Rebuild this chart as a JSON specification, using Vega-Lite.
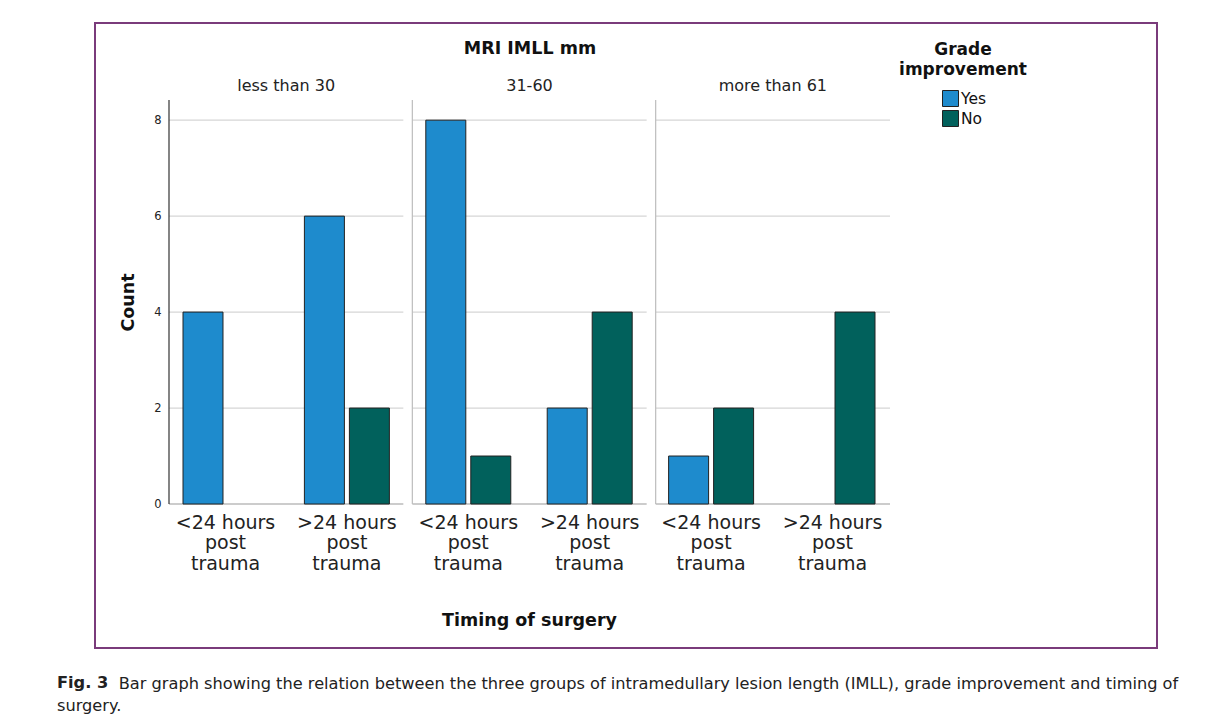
{
  "$schema": "https://vega.github.io/schema/vega-lite/v6.json",
  "width": 1062,
  "height": 625,
  "autosize": "none",
  "padding": {"left": 95, "top": 23, "right": 67, "bottom": 80},
  "background": "white",
  "config": {
    "font": "DejaVu Sans",
    "view": {"stroke": "#7a3b7b", "strokeWidth": 2},
    "axis": {"labelFont": "DejaVu Sans", "titleFont": "DejaVu Sans", "labelColor": "#222", "titleColor": "#111"}
  },
  "title": {
    "text": "Fig. 3",
    "subtitle": ["\u200b\u00a0\u00a0\u00a0\u00a0\u00a0\u00a0\u00a0\u00a0\u00a0\u00a0\u00a0\u00a0Bar graph showing the relation between the three groups of intramedullary lesion length (IMLL), grade improvement and timing of", "surgery."],
    "orient": "bottom",
    "anchor": "start",
    "frame": "group",
    "dx": -38,
    "offset": 27,
    "font": "DejaVu Sans",
    "fontSize": 16.2,
    "fontWeight": "bold",
    "lineHeight": 22,
    "color": "#222",
    "subtitleFont": "DejaVu Sans",
    "subtitleFontSize": 16.2,
    "subtitleColor": "#222",
    "subtitleLineHeight": 22,
    "subtitlePadding": -15
  },
  "datasets": {
    "bars": [
      {"panel": "less than 30", "timing": "<24 hours", "grade": "Yes", "count": 4},
      {"panel": "less than 30", "timing": ">24 hours", "grade": "Yes", "count": 6},
      {"panel": "less than 30", "timing": ">24 hours", "grade": "No", "count": 2},
      {"panel": "31-60", "timing": "<24 hours", "grade": "Yes", "count": 8},
      {"panel": "31-60", "timing": "<24 hours", "grade": "No", "count": 1},
      {"panel": "31-60", "timing": ">24 hours", "grade": "Yes", "count": 2},
      {"panel": "31-60", "timing": ">24 hours", "grade": "No", "count": 4},
      {"panel": "more than 61", "timing": "<24 hours", "grade": "Yes", "count": 1},
      {"panel": "more than 61", "timing": "<24 hours", "grade": "No", "count": 2},
      {"panel": "more than 61", "timing": ">24 hours", "grade": "No", "count": 4}
    ],
    "grid": [
      {"panel": "less than 30", "v": 0}, {"panel": "less than 30", "v": 2}, {"panel": "less than 30", "v": 4}, {"panel": "less than 30", "v": 6}, {"panel": "less than 30", "v": 8},
      {"panel": "31-60", "v": 0}, {"panel": "31-60", "v": 2}, {"panel": "31-60", "v": 4}, {"panel": "31-60", "v": 6}, {"panel": "31-60", "v": 8},
      {"panel": "more than 61", "v": 0}, {"panel": "more than 61", "v": 2}, {"panel": "more than 61", "v": 4}, {"panel": "more than 61", "v": 6}, {"panel": "more than 61", "v": 8}
    ]
  },
  "layer": [
    {
      "data": {"name": "grid"},
      "layer": [
        {
          "mark": {"type": "rect", "fill": null, "strokeWidth": 1.2},
          "encoding": {
            "x": {
              "field": "panel", "type": "nominal",
              "scale": {"domain": ["less than 30", "31-60", "more than 61"], "range": [74, 795], "paddingInner": 0.037, "paddingOuter": 0},
              "axis": {"orient": "top", "offset": -77, "ticks": false, "domain": false, "labelFontSize": 16, "labelPadding": 7, "labelAngle": 0, "title": "MRI IMLL mm", "titleFontSize": 17.5, "titleFontWeight": "bold", "titlePadding": 20}
            },
            "y": {
              "field": "v", "type": "quantitative",
              "scale": {"domain": [0, 8.42], "range": [481, 77], "nice": false},
              "axis": {"values": [0, 2, 4, 6, 8], "format": "d", "offset": -74, "domain": false, "ticks": false, "grid": false, "labelFontSize": 11.5, "labelPadding": 8, "title": "Count", "titleFontSize": 17.5, "titleFontWeight": "bold", "titlePadding": 16}
            },
            "y2": {"field": "v"},
            "stroke": {"condition": {"test": "datum.v === 0", "value": "#9a9a9a"}, "value": "#d6d6d6"}
          }
        },
        {
          "transform": [{"filter": "datum.v === 0"}],
          "mark": {"type": "rule", "strokeWidth": 1.2},
          "encoding": {
            "x": {"field": "panel", "type": "nominal", "bandPosition": 0},
            "y": {"datum": 0},
            "y2": {"datum": 8.42},
            "color": {"condition": {"test": "datum.panel === 'less than 30'", "value": "#333"}, "value": "#bdbdbd"}
          }
        }
      ]
    },
    {
      "data": {"name": "bars"},
      "transform": [{"calculate": "datum.panel + '|' + datum.timing", "as": "group"}],
      "mark": {"type": "bar", "stroke": "#222", "strokeWidth": 1},
      "encoding": {
        "x": {
          "field": "group", "type": "nominal",
          "scale": {
            "domain": ["less than 30|<24 hours", "less than 30|>24 hours", "31-60|<24 hours", "31-60|>24 hours", "more than 61|<24 hours", "more than 61|>24 hours"],
            "range": [88, 780], "paddingInner": 0.3, "paddingOuter": 0
          },
          "axis": {"orient": "bottom", "offset": -144, "ticks": false, "domain": false, "labelAngle": 0, "labelExpr": "[split(datum.value, '|')[1], 'post', 'trauma']", "labelFontSize": 19, "labelLineHeight": 20.5, "labelPadding": 9, "title": "Timing of surgery", "titleFontSize": 17.5, "titleFontWeight": "bold", "titlePadding": 38}
        },
        "xOffset": {"field": "grade", "type": "nominal", "scale": {"domain": ["Yes", "No"], "paddingInner": 0.111, "paddingOuter": 0}},
        "y": {
          "field": "count", "type": "quantitative",
          "scale": {"domain": [0, 8.42], "range": [481, 77], "nice": false},
          "axis": {"values": [0, 2, 4, 6, 8], "format": "d", "offset": -74, "domain": false, "ticks": false, "grid": false, "labelFontSize": 11.5, "labelPadding": 8, "title": "Count", "titleFontSize": 17.5, "titleFontWeight": "bold", "titlePadding": 16}
        },
        "color": {
          "field": "grade", "type": "nominal",
          "scale": {"domain": ["Yes", "No"], "range": ["#1e8bcd", "#01615c"]},
          "legend": {
            "orient": "none", "legendX": 804, "legendY": 19, "padding": 0,
            "title": ["Grade", "improvement"], "titleFontSize": 17, "titleFontWeight": "bold", "titleAlign": "center", "titleAnchor": "middle", "titleColor": "#111", "titleLineHeight": 20, "titlePadding": 11,
            "symbolType": "square", "symbolSize": 256, "symbolStrokeColor": "#222", "symbolStrokeWidth": 1, "symbolOpacity": 1, "symbolOffset": 3,
            "labelFontSize": 15.5, "labelColor": "#111", "labelOffset": 2, "rowPadding": -1
          }
        }
      }
    }
  ],
  "resolve": {"scale": {"x": "independent"}, "axis": {"x": "independent"}}
}
